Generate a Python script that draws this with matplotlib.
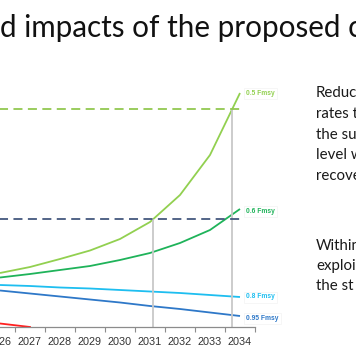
import numpy as np
import matplotlib
matplotlib.use("Agg")
import matplotlib.pyplot as plt

# projected stock size (arbitrary units)
years = [2026, 2027, 2028, 2029, 2030, 2031, 2032, 2033, 2034]
f_050 = [108, 120, 136, 153, 176, 210, 264, 344, 468]
f_060 = [99, 106, 114, 122, 134, 148, 168, 194, 236]
f_080 = [84, 82, 79, 77, 74, 71, 68, 64, 60]
f_095 = [73, 67, 61, 55, 49, 42, 36, 29, 22]
red_years = [2025, 2026, 2027]
f_red = [20, 7, 0]

level_green = 436
level_blue = 216

series = [
    ("0.5 Fmsy", f_050, "#92d050", 0),
    ("0.6 Fmsy", f_060, "#1fb35a", -1.5),
    ("0.8 Fmsy", f_080, "#1ebef0", 0),
    ("0.95 Fmsy", f_095, "#2e78c8", -1.5),
]

fig = plt.figure(figsize=(3.56, 3.64), dpi=100)
W, H = 356, 364

# axes: bottom spine at y=327px, runs to x=255px; left part is off the slide crop
ax = fig.add_axes([0, (H - 327) / H, 255 / W, 267 / H])
ax.set_xlim(2026.5 - 10 / 30.625, 2034.5)
ax.set_ylim(0, 534)

for name, vals, col, dy in series:
    ax.plot(years, vals, color=col, lw=1.3, solid_capstyle="butt")
    ax.annotate(name, xy=(years[-1], vals[-1]), xytext=(4.5, dy),
                textcoords="offset points", va="center", ha="left",
                fontsize=4.8, fontweight="bold", color=col,
                family="Liberation Sans",
                bbox=dict(boxstyle="square,pad=0.3", fc="white", ec="#f0f0f0", lw=0.4))
ax.plot(red_years, f_red, color="#ff2020", lw=1.3)

# reference levels and the years they are reached
x_green = np.interp(level_green, f_050, years)
x_blue = np.interp(level_blue, f_050, years)
ax.vlines([x_blue, x_green], 0, [level_blue, level_green], color="#c8c8c8", lw=1.3)
ax.hlines(level_green, 2025, years[-1], color="#92c850", lw=1.3, linestyles=(0, (5, 3)))
ax.hlines(level_blue, 2025, years[-1], color="#44587e", lw=1.3, linestyles=(0, (5, 3)))

for s in ["top", "left", "right"]:
    ax.spines[s].set_visible(False)
ax.spines["bottom"].set_color("#8c8c8c")
ax.spines["bottom"].set_linewidth(0.9)
ax.patch.set_alpha(0)
ax.set_yticks([])
ax.set_xticks(np.arange(2026.5, 2035, 1.0))
ax.set_xticklabels([])
ax.tick_params(axis="x", which="major", length=3.5, width=0.8, color="#8c8c8c")
ax.set_xticks(np.arange(2026, 2035), minor=True)
ax.set_xticklabels([str(y) for y in range(2026, 2035)], minor=True)
ax.tick_params(axis="x", which="minor", length=0, pad=7, labelsize=7.8,
               labelcolor="#333333")
for lab in ax.get_xticklabels(minor=True):
    lab.set_family("Liberation Sans")

fig.text(0 / W, 1 - 37 / H, "d impacts of the proposed c", fontsize=21.3,
         family="Lato", color="#111111", va="baseline", ha="left")

right_lines = [("Reduc", 97), ("rates t", 118), ("the su", 139),
               ("level w", 159), ("recove", 180),
               ("Within", 250), ("exploi", 270), ("the st", 290)]
for txt, base in right_lines:
    fig.text(316 / W, 1 - base / H, txt, fontsize=10.8, family="Lato",
             color="#1a1a1a", va="baseline", ha="left")

fig.savefig("out.png", dpi=100)
